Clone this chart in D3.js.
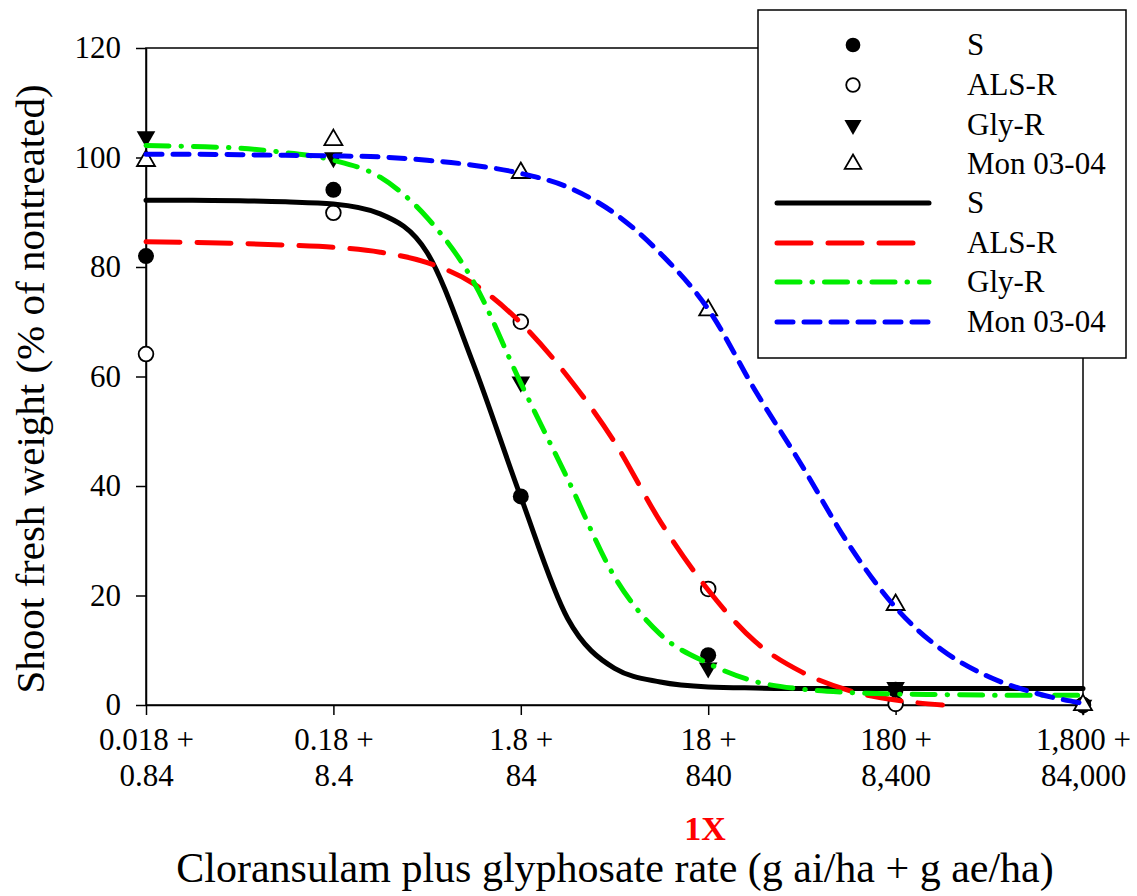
<!DOCTYPE html>
<html>
<head>
<meta charset="utf-8">
<script src="https://cdn.jsdelivr.net/npm/d3@7/dist/d3.min.js"></script>
<style>
  html, body { margin: 0; padding: 0; background: #fff; }
  svg { display: block; }
  text { font-family: "Liberation Serif", "Times New Roman", serif; fill: #000; }
</style>
</head>
<body>
<svg id="chart" width="1137" height="896"></svg>
<script>
// ---- data ----
const doses = [0.018, 0.18, 1.8, 18, 180, 1800];
const xTickTop = ["0.018 +", "0.18 +", "1.8 +", "18 +", "180 +", "1,800 +"];
const xTickBottom = ["0.84", "8.4", "84", "840", "8,400", "84,000"];
const yTicks = [0, 20, 40, 60, 80, 100, 120];

const seriesNames = ["S", "ALS-R", "Gly-R", "Mon 03-04"];
const obsS    = [82, 94.1, 38.1, 9.1, 2.8, 0];
const obsALS  = [64.1, 89.9, 70, 21.2, 0.2, 0];
const obsGly  = [103.8, 100, 59, 6.8, 3.2, 0];
const obsMon  = [99.4, 103.2, 97.2, 72.1, 18.3, 0];

// fitted curves at quarter-decade doses
const curveDose = [0.018, 0.032, 0.057, 0.1, 0.18, 0.32, 0.57, 1.0, 1.8, 3.2, 5.7,
                   10, 18, 32, 57, 100, 180, 320, 570, 1000, 1800];
const fitS   = [92.2, 92.2, 92.1, 91.9, 91.5, 89.7, 82.6, 62.5, 38.0, 15.8, 6.7,
                4.2, 3.3, 3.1, 3.0, 3.0, 3.0, 3.0, 3.0, 3.0, 3.0];
const fitALS = [84.6, 84.5, 84.3, 84.0, 83.6, 82.7, 80.8, 77.0, 69.8, 60.0, 48.0,
                33.5, 21.0, 11.6, 6.0, 2.7, 0.9, 0.0, null, null, null];
const fitGly = [102.2, 102.0, 101.7, 100.9, 99.5, 96.4, 89.0, 77.5, 58.8, 41.3, 23.4,
                12.9, 7.6, 4.3, 2.9, 2.3, 2.0, 1.9, 1.8, 1.8, 1.8];
const fitMon = [100.6, 100.6, 100.5, 100.4, 100.3, 100.1, 99.5, 98.6, 97.1, 94.6, 89.8,
                82.5, 72.3, 57.5, 43.7, 29.6, 17.8, 10.0, 5.1, 2.2, 0.3];

// ---- layout ----
const svg = d3.select("#chart");
const x = d3.scaleLog().domain([0.018, 1800]).range([146, 1083]);
const y = d3.scaleLinear().domain([0, 120]).range([705, 48]);
const FONT = 30;

// frame
svg.append("rect")
  .attr("x", x.range()[0]).attr("y", y.range()[1])
  .attr("width", x.range()[1] - x.range()[0])
  .attr("height", y.range()[0] - y.range()[1])
  .attr("fill", "none").attr("stroke", "#000").attr("stroke-width", 1.5);

// y axis
const yAxis = svg.append("g").attr("transform", `translate(${x.range()[0]},0)`)
  .call(d3.axisLeft(y).tickValues(yTicks).tickSize(10).tickPadding(15).tickSizeOuter(0));
yAxis.select(".domain").attr("stroke-width", 1.5);
yAxis.selectAll(".tick line").attr("stroke-width", 1.5);
yAxis.selectAll(".tick text")
  .attr("font-size", 31).attr("fill", "#000");

// x axis
const xAxis = svg.append("g").attr("transform", `translate(0,${y.range()[0]})`)
  .call(d3.axisBottom(x).tickValues(doses).tickSize(10).tickFormat("").tickSizeOuter(0));
xAxis.select(".domain").attr("stroke-width", 1.5);
xAxis.selectAll(".tick line").attr("stroke-width", 1.5);
xAxis.selectAll(".tick").each(function(d, i) {
  const g = d3.select(this);
  g.append("text").attr("y", 45).attr("text-anchor", "middle")
    .attr("font-size", 31).attr("fill", "#000").text(xTickTop[i]);
  g.append("text").attr("y", 81).attr("text-anchor", "middle")
    .attr("font-size", 31).attr("fill", "#000").text(xTickBottom[i]);
});

// axis titles
svg.append("text")
  .attr("x", 615).attr("y", 882).attr("text-anchor", "middle")
  .attr("font-size", 42)
  .text("Cloransulam plus glyphosate rate (g ai/ha + g ae/ha)");
svg.append("text")
  .attr("x", 705).attr("y", 840).attr("text-anchor", "middle")
  .attr("font-size", 34).attr("font-weight", "bold").style("fill", "#ff0000")
  .text("1X");
svg.append("text")
  .attr("transform", "translate(44,389) rotate(-90)")
  .attr("text-anchor", "middle").attr("font-size", 41)
  .text("Shoot fresh weight (% of nontreated)");

// ---- markers ----
const markerDefs = [
  { name: seriesNames[0], obs: obsS,   type: d3.symbolCircle,   size: 200, rot: 0,   fill: "#000", stroke: "none" },
  { name: seriesNames[1], obs: obsALS, type: d3.symbolCircle,   size: 170, rot: 0,   fill: "#fff", stroke: "#000" },
  { name: seriesNames[2], obs: obsGly, type: d3.symbolTriangle, size: 150, rot: 180, fill: "#000", stroke: "none" },
  { name: seriesNames[3], obs: obsMon, type: d3.symbolTriangle, size: 140, rot: 0,   fill: "#fff", stroke: "#000" }
];

const plotG = svg.append("g");
markerDefs.forEach(m => {
  plotG.selectAll(null).data(doses.map((d, i) => [d, m.obs[i]])).enter()
    .append("path")
    .attr("d", d3.symbol().type(m.type).size(m.size))
    .attr("transform", d => `translate(${x(d[0])},${y(d[1])}) rotate(${m.rot})`)
    .attr("fill", m.fill).attr("stroke", m.stroke).attr("stroke-width", 1.8);
});

// ---- fitted lines ----
const lineDefs = [
  { name: seriesNames[0], fit: fitS,   color: "#000000", dash: null,                width: 5 },
  { name: seriesNames[1], fit: fitALS, color: "#ff0000", dash: "34,17",             width: 5 },
  { name: seriesNames[2], fit: fitGly, color: "#00ee00", dash: "23,12,0.5,12",      width: 5 },
  { name: seriesNames[3], fit: fitMon, color: "#0000ff", dash: "16,11",             width: 5 }
];
const lineGen = d3.line()
  .defined(d => d[1] !== null)
  .x(d => x(d[0])).y(d => y(d[1]))
  .curve(d3.curveMonotoneX);

lineDefs.forEach(l => {
  plotG.append("path")
    .datum(curveDose.map((d, i) => [d, l.fit[i]]))
    .attr("d", lineGen)
    .attr("fill", "none").attr("stroke", l.color)
    .attr("stroke-width", l.width).attr("stroke-linecap", "round")
    .attr("stroke-linejoin", "round")
    .attr("stroke-dasharray", l.dash);
});

// ---- legend ----
const leg = svg.append("g");
leg.append("rect").attr("x", 758).attr("y", 10).attr("width", 368).attr("height", 348)
  .attr("fill", "#fff").attr("stroke", "#000").attr("stroke-width", 1.5);
const rowY = [45, 85, 125, 164, 203, 243, 282, 322];
markerDefs.forEach((m, i) => {
  leg.append("path")
    .attr("d", d3.symbol().type(m.type).size(m.size * 0.85))
    .attr("transform", `translate(853,${rowY[i]}) rotate(${m.rot})`)
    .attr("fill", m.fill).attr("stroke", m.stroke).attr("stroke-width", 1.8);
  leg.append("text").attr("x", 967).attr("y", rowY[i] + 10)
    .attr("font-size", 31).text(m.name);
});
lineDefs.forEach((l, i) => {
  const yy = rowY[4 + i];
  leg.append("line").attr("x1", 777).attr("x2", 929).attr("y1", yy).attr("y2", yy)
    .attr("stroke", l.color).attr("stroke-width", l.width)
    .attr("stroke-linecap", "round").attr("stroke-dasharray", l.dash);
  leg.append("text").attr("x", 967).attr("y", yy + 10)
    .attr("font-size", 31).text(l.name);
});
</script>
</body>
</html>
